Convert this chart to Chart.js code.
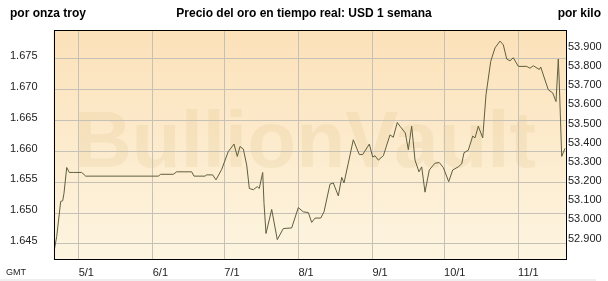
<!DOCTYPE html>
<html>
<head>
<meta charset="utf-8">
<script src="https://cdn.jsdelivr.net/npm/chart.js@4"></script>
<style>
  html, body { margin: 0; padding: 0; background: #fff; }
  canvas { display: block; }
</style>
</head>
<body>
<canvas id="gold-chart" width="608" height="281"></canvas>
<script>
// Precio del oro (USD por onza troy), eje x en días desde el 1 de mayo
const OZ_PER_KG = 32.1507;

const monthDays = [0, 31, 61, 92, 123, 153, 184];
const monthLabels = ['5/1', '6/1', '7/1', '8/1', '9/1', '10/1', '11/1'];

const ozTicks = [1645, 1650, 1655, 1660, 1665, 1670, 1675];
const kiloTicks = [52900, 53000, 53100, 53200, 53300, 53400, 53500, 53600, 53700, 53800, 53900];

const days = [
    -10.22, -9.21, -7.54, -6.70, -6.16, -5.02, -3.93, -2.26, 1.26, 2.93,
    33.34, 34.34, 39.61, 41.04, 47.32, 48.28, 52.89, 53.60, 56.11, 57.49,
    59.89, 62.65, 65.04, 66.41, 67.54, 68.93, 70.36, 71.45, 73.12, 74.79,
    75.62, 77.05, 77.60, 78.44, 80.82, 83.16, 85.68, 89.19, 91.96, 94.06,
    96.15, 97.57, 98.96, 101.34, 102.72, 105.24, 106.61, 108.71, 110.14, 111.10,
    112.90, 114.99, 117.51, 118.92, 121.70, 123.11, 124.08, 125.46, 127.56, 130.36,
    131.74, 133.41, 134.55, 136.77, 138.03, 139.44, 140.83, 142.50, 143.63, 145.02,
    146.81, 149.20, 151.00, 152.68, 154.94, 156.62, 158.96, 160.39, 161.35, 163.15,
    165.00, 165.96, 167.34, 169.18, 170.56, 172.53, 174.33, 176.42, 177.81, 179.23,
    180.61, 181.99, 184.09, 187.60, 188.98, 190.37, 192.88, 193.47, 195.69, 196.65,
    198.49, 199.88, 200.84, 201.25, 202.26, 203.64
];

const prices = [
    1644.0, 1646.2, 1651.9, 1652.0, 1653.2, 1657.4, 1656.6, 1656.6, 1656.6, 1656.0,
    1656.0, 1656.3, 1656.3, 1656.7, 1656.7, 1656.0, 1656.0, 1656.2, 1656.2, 1655.4,
    1657.1, 1660.0, 1661.2, 1659.2, 1660.8, 1660.4, 1657.8, 1654.0, 1653.8, 1654.3,
    1654.0, 1656.6, 1651.6, 1646.7, 1650.6, 1645.7, 1647.5, 1647.6, 1650.9, 1650.2,
    1650.1, 1648.5, 1649.2, 1649.2, 1650.2, 1654.7, 1654.9, 1652.8, 1655.8, 1654.9,
    1658.1, 1661.9, 1659.5, 1659.5, 1661.2, 1659.1, 1659.3, 1658.6, 1659.3, 1662.7,
    1662.3, 1664.7, 1664.1, 1663.0, 1660.3, 1664.1, 1658.6, 1656.7, 1657.5, 1653.4,
    1657.0, 1658.1, 1658.2, 1657.4, 1655.1, 1657.0, 1657.5, 1658.0, 1659.8, 1660.2,
    1662.5, 1662.2, 1664.1, 1662.2, 1669.2, 1674.6, 1676.8, 1677.9, 1677.3, 1675.0,
    1674.7, 1675.2, 1673.8, 1673.8, 1673.5, 1673.9, 1673.3, 1673.7, 1671.1, 1670.0,
    1669.5, 1668.1, 1675.0, 1671.1, 1659.2, 1660.5
];

const X_MIN = -10.55;
const X_MAX = 204.06;
const Y_MIN = 1642.4;
const Y_MAX = 1679.7;

const tickFont = { family: '"Liberation Sans", Arial, sans-serif', size: 11 };
const tickColor = '#222';
const gridColor = '#c6c1b6';

function formatThousands(value) {
    return (value / 1000).toFixed(3);
}

// fondo, marca de agua, marco y textos
const framePlugin = {
    id: 'frame',
    beforeDraw(chart) {
        const { ctx, chartArea: a } = chart;
        ctx.save();
        ctx.fillStyle = '#ffffff';
        ctx.fillRect(0, 0, chart.width, chart.height);

        const g = ctx.createLinearGradient(0, a.top, 0, a.bottom);
        g.addColorStop(0, '#fce1b9');
        g.addColorStop(1, '#fdf5e1');
        ctx.fillStyle = g;
        ctx.fillRect(a.left, a.top, a.right - a.left, a.bottom - a.top);

        ctx.font = 'bold 80px "Liberation Sans", Arial, sans-serif';
        ctx.fillStyle = 'rgba(200, 170, 95, 0.13)';
        ctx.textBaseline = 'alphabetic';
        ctx.textAlign = 'left';
        ctx.fillText('BullionVault', 74, 167);
        ctx.restore();
    },
    afterDraw(chart) {
        const { ctx, chartArea: a } = chart;
        ctx.save();
        ctx.strokeStyle = '#000';
        ctx.lineWidth = 1;
        ctx.strokeRect(Math.round(a.left) + 0.5, Math.round(a.top) + 0.5,
            Math.round(a.right - a.left) - 1, Math.round(a.bottom - a.top) - 1);

        ctx.fillStyle = '#000';
        ctx.textBaseline = 'middle';
        ctx.font = 'bold 12px "Liberation Sans", Arial, sans-serif';
        ctx.textAlign = 'left';
        ctx.fillText('por onza troy', 10, 14);
        ctx.textAlign = 'center';
        ctx.fillText('Precio del oro en tiempo real: USD 1 semana', 304, 14);
        ctx.textAlign = 'right';
        ctx.fillText('por kilo', 601, 14);

        ctx.font = '9px "Liberation Sans", Arial, sans-serif';
        ctx.fillStyle = tickColor;
        ctx.textAlign = 'left';
        ctx.fillText('GMT', 6, 273);

        ctx.fillStyle = '#efefef';
        ctx.fillRect(0, 279, 596, 2);
        ctx.restore();
    }
};

const canvas = document.getElementById('gold-chart');

new Chart(canvas, {
    type: 'line',
    data: {
        datasets: [{
            label: 'USD/oz',
            data: days.map((d, i) => ({ x: d, y: prices[i] })),
            borderColor: '#5f5f3c',
            borderWidth: 1,
            pointRadius: 0,
            tension: 0,
            fill: false
        }]
    },
    options: {
        responsive: false,
        animation: false,
        events: [],
        layout: { padding: { left: 10, top: 30, right: 0, bottom: 0 } },
        plugins: {
            legend: { display: false },
            tooltip: { enabled: false }
        },
        scales: {
            x: {
                type: 'linear',
                min: X_MIN,
                max: X_MAX,
                afterBuildTicks: scale => { scale.ticks = monthDays.map(v => ({ value: v })); },
                afterFit: scale => { scale.height = 21; },
                ticks: {
                    callback: (value, index) => monthLabels[index],
                    align: 'start',
                    labelOffset: 0,
                    padding: 6,
                    maxRotation: 0,
                    autoSkip: false,
                    font: tickFont,
                    color: tickColor
                },
                grid: { color: gridColor, drawTicks: false },
                border: { display: false }
            },
            y: {
                position: 'left',
                min: Y_MIN,
                max: Y_MAX,
                afterBuildTicks: scale => { scale.ticks = ozTicks.map(v => ({ value: v })); },
                afterFit: scale => { scale.width = 43.5; },
                ticks: {
                    callback: value => formatThousands(value),
                    crossAlign: 'far',
                    labelOffset: -3,
                    font: tickFont,
                    color: tickColor
                },
                grid: { color: gridColor, drawTicks: false },
                border: { display: false }
            },
            y2: {
                position: 'right',
                min: Y_MIN * OZ_PER_KG,
                max: Y_MAX * OZ_PER_KG,
                afterBuildTicks: scale => { scale.ticks = kiloTicks.map(v => ({ value: v })); },
                afterFit: scale => { scale.width = 42; },
                ticks: {
                    callback: value => formatThousands(value),
                    padding: 2,
                    labelOffset: -3,
                    font: tickFont,
                    color: tickColor
                },
                grid: { display: false, drawTicks: false },
                border: { display: false }
            }
        }
    },
    plugins: [framePlugin]
});
</script>
</body>
</html>
